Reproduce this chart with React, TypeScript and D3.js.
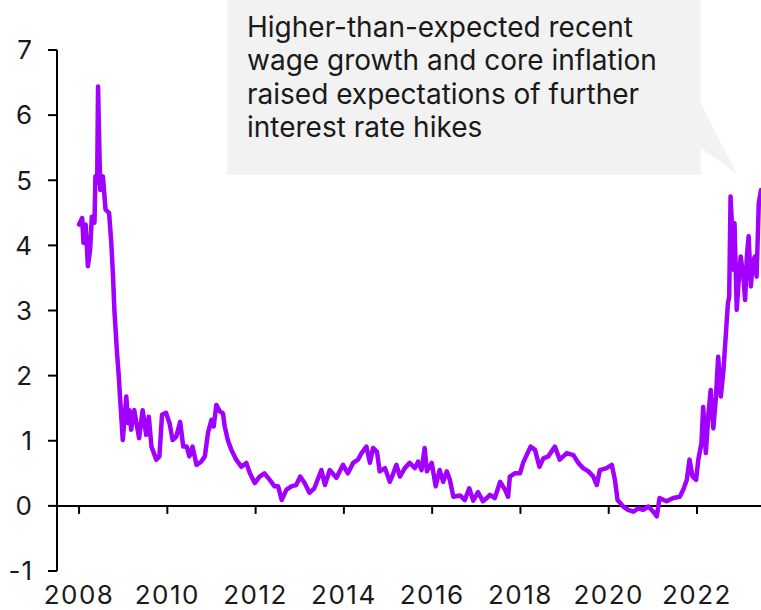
import React from 'react';
import * as d3 from 'd3';

const years: number[] = [
    2008.00, 2008.07, 2008.10, 2008.15, 2008.20, 2008.25, 2008.29, 2008.35, 2008.37, 2008.41,
    2008.43, 2008.46, 2008.48, 2008.54, 2008.60, 2008.68, 2008.73, 2008.77, 2008.80, 2008.86,
    2008.90, 2008.93, 2008.99, 2009.07, 2009.11, 2009.14, 2009.18, 2009.25, 2009.36, 2009.44,
    2009.52, 2009.58, 2009.64, 2009.75, 2009.82, 2009.88, 2009.97, 2010.05, 2010.12, 2010.20,
    2010.29, 2010.36, 2010.44, 2010.50, 2010.57, 2010.66, 2010.77, 2010.85, 2010.92, 2011.00,
    2011.05, 2011.11, 2011.19, 2011.26, 2011.30, 2011.37, 2011.45, 2011.56, 2011.68, 2011.79,
    2011.87, 2011.98, 2012.09, 2012.20, 2012.32, 2012.43, 2012.51, 2012.59, 2012.70, 2012.81,
    2012.92, 2013.01, 2013.11, 2013.22, 2013.33, 2013.49, 2013.57, 2013.68, 2013.83, 2013.98,
    2014.09, 2014.21, 2014.32, 2014.40, 2014.51, 2014.59, 2014.66, 2014.75, 2014.81, 2014.93,
    2015.04, 2015.12, 2015.19, 2015.27, 2015.38, 2015.49, 2015.61, 2015.68, 2015.76, 2015.83,
    2015.88, 2015.99, 2016.08, 2016.17, 2016.25, 2016.33, 2016.40, 2016.48, 2016.63, 2016.74,
    2016.84, 2016.93, 2017.04, 2017.15, 2017.27, 2017.31, 2017.42, 2017.54, 2017.65, 2017.72,
    2017.76, 2017.87, 2017.99, 2018.06, 2018.14, 2018.23, 2018.33, 2018.43, 2018.52, 2018.63,
    2018.78, 2018.89, 2019.05, 2019.20, 2019.31, 2019.42, 2019.54, 2019.65, 2019.73, 2019.80,
    2019.95, 2020.07, 2020.14, 2020.20, 2020.33, 2020.44, 2020.56, 2020.67, 2020.78, 2020.90,
    2021.01, 2021.09, 2021.15, 2021.31, 2021.46, 2021.61, 2021.69, 2021.77, 2021.83, 2021.90,
    2021.98, 2022.03, 2022.10, 2022.14, 2022.20, 2022.26, 2022.31, 2022.37, 2022.43, 2022.48,
    2022.54, 2022.60, 2022.66, 2022.70, 2022.73, 2022.76, 2022.79, 2022.82, 2022.85, 2022.90,
    2022.94, 2022.99, 2023.05, 2023.09, 2023.13, 2023.17, 2023.22, 2023.26, 2023.31, 2023.35,
    2023.40, 2023.45
];

// Yield (%) at each of the dates above
const yields: number[] = [
    4.32, 4.42, 4.04, 4.32, 3.68, 3.93, 4.44, 4.35, 5.06, 4.96,
    6.44, 5.47, 4.85, 5.06, 4.55, 4.50, 4.04, 3.52, 3.01, 2.35,
    1.99, 1.65, 1.01, 1.68, 1.27, 1.47, 1.17, 1.47, 1.04, 1.47,
    1.09, 1.37, 0.91, 0.71, 0.76, 1.40, 1.43, 1.27, 1.01, 1.06,
    1.29, 0.91, 0.91, 0.76, 0.91, 0.63, 0.68, 0.76, 1.12, 1.32,
    1.22, 1.55, 1.45, 1.42, 1.22, 1.01, 0.86, 0.71, 0.60, 0.66,
    0.50, 0.35, 0.45, 0.50, 0.40, 0.30, 0.30, 0.09, 0.25, 0.30,
    0.32, 0.45, 0.35, 0.20, 0.27, 0.55, 0.32, 0.55, 0.43, 0.63,
    0.50, 0.66, 0.71, 0.81, 0.91, 0.66, 0.89, 0.83, 0.53, 0.58,
    0.37, 0.50, 0.63, 0.45, 0.58, 0.66, 0.58, 0.68, 0.55, 0.89,
    0.53, 0.66, 0.30, 0.55, 0.37, 0.53, 0.40, 0.14, 0.16, 0.09,
    0.27, 0.08, 0.21, 0.07, 0.14, 0.17, 0.12, 0.37, 0.25, 0.14,
    0.45, 0.50, 0.50, 0.66, 0.78, 0.91, 0.86, 0.60, 0.73, 0.76,
    0.91, 0.71, 0.81, 0.78, 0.66, 0.58, 0.53, 0.45, 0.32, 0.55,
    0.58, 0.63, 0.40, 0.09, -0.01, -0.06, -0.09, -0.04, -0.06, -0.01,
    -0.09, -0.16, 0.12, 0.07, 0.12, 0.14, 0.25, 0.40, 0.71, 0.45,
    0.40, 0.71, 0.96, 1.52, 0.81, 1.42, 1.78, 1.19, 1.68, 2.29,
    1.68, 2.09, 2.70, 3.11, 3.21, 4.75, 4.34, 3.63, 4.34, 3.01,
    3.42, 3.83, 3.52, 3.16, 3.83, 4.14, 3.37, 3.73, 3.83, 3.52,
    4.65, 4.85
];

const yTicks: number[] = [-1, 0, 1, 2, 3, 4, 5, 6, 7];
const xTickYears: number[] = [2008, 2010, 2012, 2014, 2016, 2018, 2020, 2022];

const noteLines: string[] = [
    'Higher-than-expected recent',
    'wage growth and core inflation',
    'raised expectations of further',
    'interest rate hikes'
];

const WIDTH = 761;
const HEIGHT = 610;
const FONT = "Inter, 'Noto Sans', sans-serif";
const PURPLE = '#A100FF';

const App: React.FC = () => {
    const x = d3.scaleLinear().domain([2007.5, 2023.45]).range([57, 761]);
    const y = d3.scaleLinear().domain([-1, 7]).range([571, 50]);
    const axisX = x.range()[0];

    const points = years.map((t, i) => [t, yields[i]] as [number, number]);
    const line = d3.line<[number, number]>()
        .x(d => x(d[0]))
        .y(d => y(d[1]));

    // callout pointer aims at the late-2022 spike
    const tipX = x(2022.9);
    const tipY = y(5.1);

    return (
        <svg width={WIDTH} height={HEIGHT}
            style={{ position: 'absolute', left: 0, top: 0, background: '#fff' }}
            fontFamily={FONT}>
            {/* annotation box */}
            <rect x={227} y={0} width={474} height={175} fill="#f2f2f2" />
            <polygon points={`700,102 700,147 ${tipX},${tipY}`} fill="#f2f2f2" />
            {noteLines.map((t, i) => (
                <text key={i} x={247} y={37 + i * 33.3} fontSize={28} fill="#1a1a1a">{t}</text>
            ))}

            {/* y axis */}
            <line x1={axisX} x2={axisX} y1={y(7)} y2={y(-1)} stroke="#000" strokeWidth={2} />
            {yTicks.map(v => (
                <g key={v}>
                    <line x1={axisX - 9} x2={axisX} y1={y(v)} y2={y(v)} stroke="#000" strokeWidth={2} />
                    <text x={33} y={y(v)} dy="0.36em" textAnchor="end" fontSize={26}
                        letterSpacing={1} fill="#1a1a1a">{v}</text>
                </g>
            ))}

            {/* x axis along zero */}
            <line x1={axisX} x2={x.range()[1]} y1={y(0)} y2={y(0)} stroke="#000" strokeWidth={2} />
            {xTickYears.map(yr => (
                <g key={yr}>
                    <line x1={x(yr)} x2={x(yr)} y1={y(0)} y2={y(0) + 8} stroke="#000" strokeWidth={2} />
                    <text x={x(yr)} y={604} textAnchor="middle" fontSize={26}
                        letterSpacing={1.5} fill="#1a1a1a">{yr}</text>
                </g>
            ))}

            {/* series */}
            <path d={line(points) || ''} fill="none" stroke={PURPLE} strokeWidth={4.5}
                strokeLinejoin="round" strokeLinecap="round" />
        </svg>
    );
};

export default App;
